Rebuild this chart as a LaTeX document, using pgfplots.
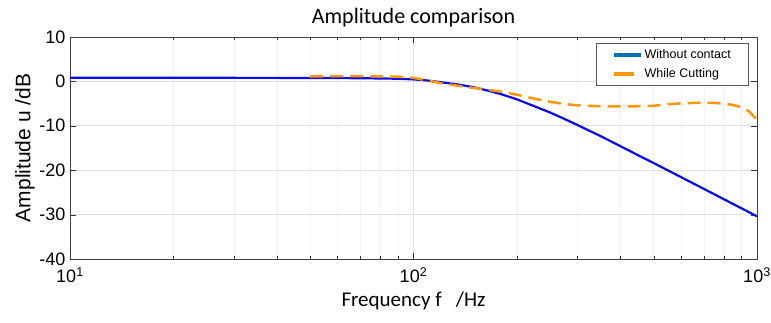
\documentclass[border=0pt]{standalone}
\usepackage{fontspec}
\setmainfont{Liberation Sans}
\newfontfamily\carlito{Carlito}
\usepackage{pgfplots}
\pgfplotsset{compat=1.18}
\usetikzlibrary{calc}
\definecolor{mblue}{RGB}{0,114,189}
\definecolor{lblue}{RGB}{10,10,240}
\definecolor{morange}{RGB}{255,150,10}
\pgfplotsset{
  longleg/.style={legend image code/.code={\draw[#1] (0bp,0bp) -- (27bp,0bp);}},
  shortleg/.style={legend image code/.code={\draw[#1] (0bp,0bp) -- (20bp,0bp);}}}
\begin{document}
\begin{tikzpicture}
\begin{axis}[
  scale only axis, width=687bp, height=222bp,
  xmode=log, xmin=10, xmax=1000, ymin=-40, ymax=10,
  ytick={-40,-30,-20,-10,0,10},
  xtick={10,100,1000},
  xticklabels={10\textsuperscript{1},10\textsuperscript{2},10\textsuperscript{3}},
  /pgf/number format/assume math mode=true,
  tick label style={font=\fontsize{18bp}{20bp}\selectfont, text=black},
  xticklabel style={yshift=-5bp},
  yticklabel style={xshift=-1bp},
  tick align=inside, major tick length=6bp, minor tick length=3.5bp,
  axis line style={draw=black!75}, tick style={black!80},
  grid=both,
  major grid style={draw=black!12, line width=0.8pt},
  minor grid style={draw=black!5, line width=0.5pt},
  ymajorgrids=true, xminorgrids=true, yminorgrids=false,
  minor y tick num=0,
  title={\carlito\fontsize{22bp}{24bp}\selectfont Amplitude comparison},
  title style={at={(0.5,1)}, anchor=south, yshift=0bp},
  xlabel={\carlito\fontsize{21bp}{23bp}\selectfont Frequency f \ \ /Hz},
  ylabel={\fontsize{21bp}{23bp}\selectfont Amplitude u /dB},
  xlabel style={yshift=-2bp},
  ylabel style={yshift=-2bp},
  legend style={at={(1,1)}, xshift=-9bp, yshift=-6bp, anchor=north east, draw=black!65, fill=white,
    font=\fontsize{12.5bp}{14bp}\selectfont, row sep=4bp, inner xsep=15bp, inner ysep=4.5bp,
    legend cell align=left},
]
\addplot[lblue, line width=2.2bp, forget plot] coordinates {
(10,0.8) (20,0.8) (30,0.8) (50,0.78) (70,0.72) (90,0.6) (100,0.45) (110,0.2)
(120,-0.18) (135,-0.7) (150,-1.33) (165,-2.1) (180,-2.88) (200,-4.04)
(225,-5.6) (250,-7.02) (275,-8.45) (300,-9.82) (350,-12.3) (400,-14.58)
(450,-16.6) (500,-18.39) (600,-21.53) (700,-24.2) (800,-26.52) (900,-28.56) (1000,-30.39)
};
\addplot[morange, line width=2.5bp, dash pattern=on 13bp off 7bp, forget plot] coordinates {
(50,1.1) (60,1.2) (70,1.2) (80,1.15) (90,1.05) (100,0.8) (110,0.2) (120,-0.4)
(135,-1.0) (150,-1.5) (165,-1.9) (180,-2.3) (200,-3.0) (225,-3.9) (250,-4.6)
(275,-5.1) (300,-5.4) (350,-5.6) (400,-5.6) (450,-5.6) (500,-5.5) (550,-5.15)
(600,-4.95) (680,-4.8) (750,-4.85) (800,-5.0) (850,-5.3) (900,-5.8) (950,-6.8) (1000,-8.7)
};
\addlegendimage{mblue, line width=4bp, longleg}
\addlegendentry{Without contact}
\addlegendimage{morange, line width=4bp, shortleg}
\addlegendentry{While Cutting}
\end{axis}
\pgfresetboundingbox
\path ($(current axis.south west)+(-70bp,-64bp)$) rectangle ($(current axis.north east)+(14bp,37bp)$);
\end{tikzpicture}
\end{document}
